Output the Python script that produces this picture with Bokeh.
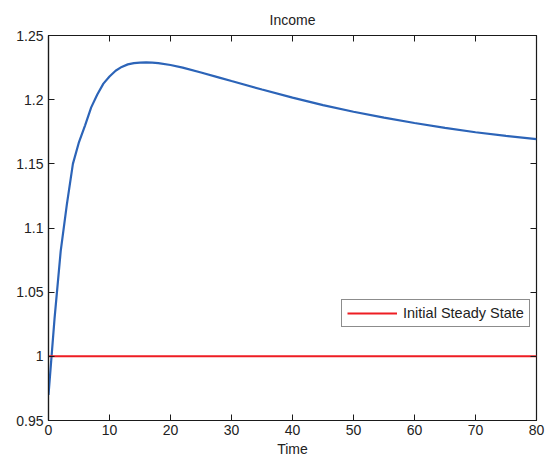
from bokeh.plotting import figure
from bokeh.models import (Range1d, FixedTicker, LinearAxis, Legend, LegendItem)
from bokeh.embed import file_html
from bokeh.resources import INLINE

# ---- data ----
time = [0, 1, 2, 3, 4, 5, 6, 7, 8, 9, 10, 11, 12, 13, 14, 15, 16, 17, 18,
        20, 22, 25, 28, 30, 35, 40, 45, 50, 55, 60, 65, 70, 75, 80]
income = [0.970, 1.030, 1.082, 1.118, 1.150, 1.167, 1.180, 1.194, 1.204, 1.2125,
          1.218, 1.2225, 1.2255, 1.2275, 1.2285, 1.2289, 1.2290, 1.2289, 1.2285,
          1.2270, 1.2250, 1.2212, 1.2172, 1.2145, 1.2079, 1.2016, 1.1958, 1.1906,
          1.1860, 1.1818, 1.1780, 1.1746, 1.1718, 1.1692]
steady_time = [0, 80]
steady_value = [1.0, 1.0]
x_ticks = [0, 10, 20, 30, 40, 50, 60, 70, 80]
y_ticks = [0.95, 1.0, 1.05, 1.1, 1.15, 1.2, 1.25]
y_tick_labels = ["0.95", "1", "1.05", "1.1", "1.15", "1.2", "1.25"]
legend_label = "Initial Steady State"

FONT = "Liberation Sans"
TXT = "#222222"
BLUE = "#2c64b8"
RED = "#ee1d23"
AX = "#1a1a1a"

p = figure(width=549, height=459, output_backend="svg", toolbar_location=None,
           x_range=Range1d(0, 80), y_range=Range1d(0.95, 1.25),
           min_border_left=48, min_border_right=13, min_border_top=35, min_border_bottom=38,
           x_axis_label="Time")
p.background_fill_color = "white"
p.border_fill_color = "white"
p.grid.visible = False
p.outline_line_color = AX
p.outline_line_width = 1.2

p.title.text = "Income"
p.title.align = "center"
p.title.text_font = FONT
p.title.text_font_size = "14px"
p.title.text_font_style = "normal"
p.title.text_color = TXT
p.title.standoff = 16

for ax in p.xaxis:
    ax.ticker = FixedTicker(ticks=x_ticks)
for ax in p.yaxis:
    ax.ticker = FixedTicker(ticks=y_ticks)
    ax.major_label_overrides = {t: l for t, l in zip(y_ticks, y_tick_labels)}

for ax in p.xaxis + p.yaxis:
    ax.major_tick_in = 6
    ax.major_tick_out = 0
    ax.minor_tick_line_color = None
    ax.axis_line_color = AX
    ax.axis_line_width = 1.2
    ax.major_tick_line_color = AX
    ax.major_label_text_font = FONT
    ax.major_label_text_font_size = "14px"
    ax.major_label_text_color = TXT
    ax.axis_label_text_font = FONT
    ax.axis_label_text_font_size = "14px"
    ax.axis_label_text_font_style = "normal"
    ax.axis_label_text_color = TXT
p.xaxis.major_label_standoff = 4
p.xaxis.axis_label_standoff = 3
p.yaxis.major_label_standoff = 5

# box ticks on top and right (MATLAB style), no labels
top = LinearAxis(ticker=FixedTicker(ticks=x_ticks), major_label_text_color=None,
                 major_label_text_font_size="1px",
                 major_label_standoff=0, major_tick_in=6, major_tick_out=0,
                 minor_tick_line_color=None, axis_line_color=None,
                 major_tick_line_color=AX)
right = LinearAxis(ticker=FixedTicker(ticks=y_ticks), major_label_text_color=None,
                   major_label_text_font_size="1px",
                   major_label_standoff=0, major_tick_in=6, major_tick_out=0,
                   minor_tick_line_color=None, axis_line_color=None,
                   major_tick_line_color=AX)
p.add_layout(top, "above")
p.add_layout(right, "right")

p.line(time, income, line_color=BLUE, line_width=2.2)
r_red = p.line(steady_time, steady_value, line_color=RED, line_width=2)

legend = Legend(items=[LegendItem(label=legend_label, renderers=[r_red])],
                location=(293, 93), margin=0, padding=5, spacing=0,
                glyph_width=50, glyph_height=12, label_height=12, label_standoff=6,
                label_text_font=FONT, label_text_font_size="14.5px", label_text_color=TXT,
                border_line_color=AX, border_line_width=1,
                background_fill_color="white", background_fill_alpha=1)
p.add_layout(legend, "center")

open("out.html", "w").write(file_html(p, INLINE))
